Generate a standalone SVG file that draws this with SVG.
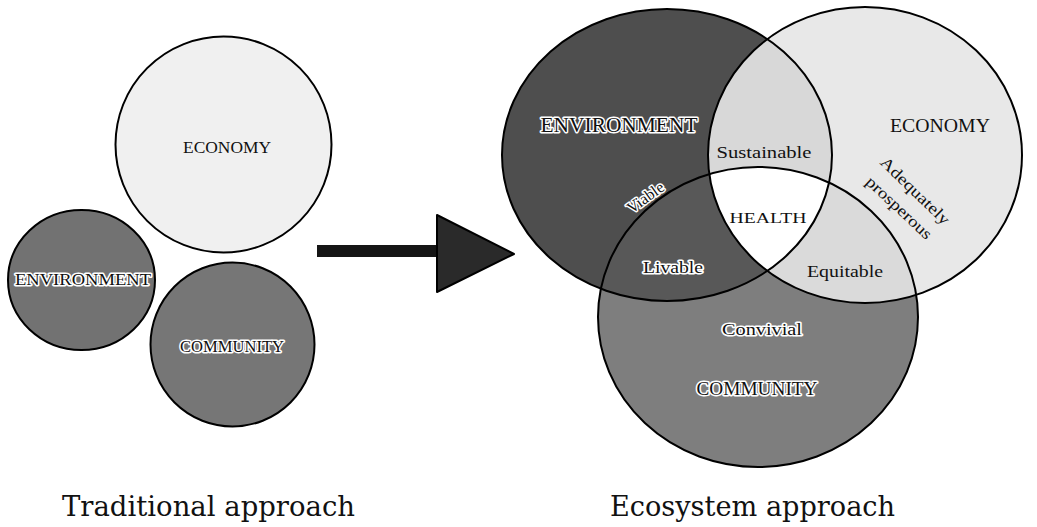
<svg xmlns="http://www.w3.org/2000/svg" width="1037" height="527" viewBox="0 0 1037 527">
<style>
.outline{fill:none;stroke:#000;stroke-width:2}
.lbl{font-family:"Liberation Serif","DejaVu Serif",serif;fill:#111;text-anchor:middle}
.halo{paint-order:stroke;stroke:#fff;stroke-width:3;stroke-linejoin:round}
.title{font-family:"DejaVu Serif","Liberation Serif",serif;fill:#111;font-size:28px}
</style>
<defs>
<clipPath id="clipEnv"><ellipse cx="667" cy="155" rx="165" ry="146"/></clipPath>
<clipPath id="clipComm"><ellipse cx="758" cy="317" rx="160" ry="150"/></clipPath>
</defs>
<rect width="1037" height="527" fill="#fff"/>

<!-- Traditional approach -->
<g id="trad-economy">
<circle cx="223.5" cy="144.5" r="108" class="outline" style="fill:#f0f0f0"/>
<text class="lbl" x="227" y="153" font-size="16" textLength="88" lengthAdjust="spacingAndGlyphs">ECONOMY</text>
</g>
<g id="trad-environment">
<ellipse cx="81.5" cy="280" rx="73.5" ry="70" class="outline" style="fill:#727272"/>
<text class="lbl halo" x="83" y="285" font-size="17" textLength="136" lengthAdjust="spacingAndGlyphs">ENVIRONMENT</text>
</g>
<g id="trad-community">
<circle cx="232.5" cy="344.5" r="82" class="outline" style="fill:#767676"/>
<text class="lbl halo" x="232" y="352" font-size="16" textLength="104" lengthAdjust="spacingAndGlyphs">COMMUNITY</text>
</g>

<g id="connectors">
<rect x="317" y="245" width="122" height="12" fill="#151515"/>
<polygon points="437,215 437,292 514,254" fill="#2a2a2a" stroke="#000" stroke-width="2" stroke-linejoin="round"/>
</g>

<!-- Ecosystem approach -->
<g id="eco-environment">
<ellipse cx="667" cy="155" rx="165" ry="146" fill="#4e4e4e"/>
</g>
<g id="eco-community">
<ellipse cx="758" cy="317" rx="160" ry="150" fill="#7e7e7e"/>
<g clip-path="url(#clipEnv)"><ellipse cx="758" cy="317" rx="160" ry="150" fill="#585858"/></g>
</g>
<g id="eco-economy">
<ellipse cx="865" cy="155" rx="157" ry="148" fill="#e8e8e8"/>
<g clip-path="url(#clipEnv)"><ellipse cx="865" cy="155" rx="157" ry="148" fill="#d8d8d8"/></g>
<g clip-path="url(#clipComm)"><ellipse cx="865" cy="155" rx="157" ry="148" fill="#dadada"/></g>
</g>
<g id="eco-health">
<g clip-path="url(#clipEnv)"><g clip-path="url(#clipComm)"><ellipse cx="865" cy="155" rx="157" ry="148" fill="#fff"/></g></g>
</g>
<g id="eco-outlines">
<ellipse cx="667" cy="155" rx="165" ry="146" class="outline"/>
<ellipse cx="758" cy="317" rx="160" ry="150" class="outline"/>
<ellipse cx="865" cy="155" rx="157" ry="148" class="outline"/>
</g>
<g id="eco-labels">
<text class="lbl halo" x="619" y="132" font-size="22" textLength="157" lengthAdjust="spacingAndGlyphs">ENVIRONMENT</text>
<text class="lbl" x="940" y="132" font-size="19" textLength="100" lengthAdjust="spacingAndGlyphs">ECONOMY</text>
<text class="lbl" x="764" y="158" font-size="17" textLength="95" lengthAdjust="spacingAndGlyphs">Sustainable</text>
<text class="lbl" x="768" y="223" font-size="15" textLength="77" lengthAdjust="spacingAndGlyphs">HEALTH</text>
<text class="lbl halo" x="673" y="273" font-size="16" textLength="60" lengthAdjust="spacingAndGlyphs">Livable</text>
<text class="lbl" x="845" y="277" font-size="16" textLength="76" lengthAdjust="spacingAndGlyphs">Equitable</text>
<text class="lbl halo" x="762" y="335" font-size="17" textLength="80" lengthAdjust="spacingAndGlyphs">Convivial</text>
<text class="lbl halo" x="757" y="395" font-size="18" textLength="121" lengthAdjust="spacingAndGlyphs">COMMUNITY</text>
<text class="lbl halo" x="645" y="203" font-size="16" transform="rotate(-36 645 197)">Viable</text>
<text class="lbl" x="915" y="196" font-size="16" textLength="90" lengthAdjust="spacingAndGlyphs" transform="rotate(44 915 191)">Adequately</text>
<text class="lbl" x="899" y="213" font-size="16" textLength="84" lengthAdjust="spacingAndGlyphs" transform="rotate(43 899 208)">prosperous</text>
</g>

<g id="titles">
<text class="title" x="62" y="516" textLength="293" lengthAdjust="spacingAndGlyphs">Traditional approach</text>
<text class="title" x="610" y="516" textLength="285" lengthAdjust="spacingAndGlyphs">Ecosystem approach</text>
</g>
</svg>
